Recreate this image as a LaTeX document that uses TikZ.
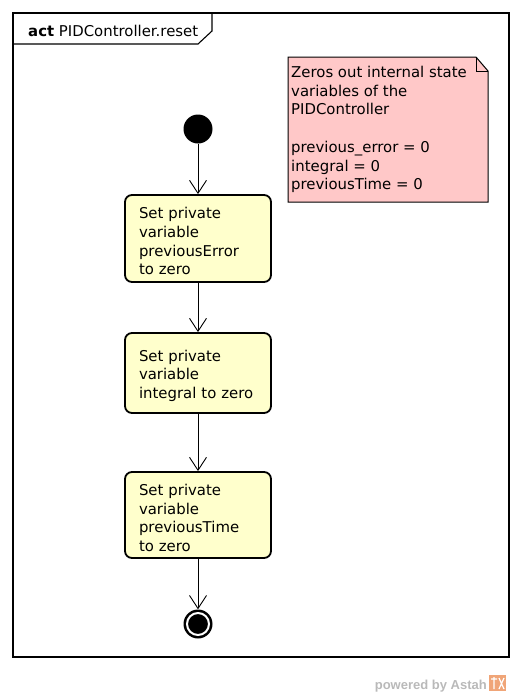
\documentclass[tikz,border=0pt]{standalone}
\usepackage{fontspec}
\setmainfont{DejaVu Sans}
\newfontfamily\wmfont{Liberation Sans}
\usetikzlibrary{arrows.meta}
\definecolor{actfill}{RGB}{255,255,204}
\definecolor{notefill}{RGB}{255,200,200}
\definecolor{wmgray}{RGB}{185,185,185}
\definecolor{astahorange}{RGB}{240,165,120}
\newcommand{\toppad}{\rule{0pt}{17pt}}
\begin{document}
\begin{tikzpicture}[x=1pt,y=-1pt,
  font=\fontsize{14.9}{18.7}\selectfont,
  actbox/.style={draw, line width=1.8pt, fill=actfill, rounded corners=7pt,
    minimum width=146pt, minimum height=80pt, text width=118pt, align=left,
    inner xsep=14pt, inner ysep=4pt},
  flow/.style={line width=0.9pt, -{Straight Barb[length=13pt,width=17pt,line width=0.9pt]}},
  framebox/.style={line width=1.1pt},
  notebox/.style={draw, line width=1pt, fill=notefill},
  plaintext/.style={inner sep=0pt, align=left}]
\useasboundingbox (0,0) rectangle (522,697);
% frame
\draw[framebox] (13,13) rectangle (509,657);
\draw[framebox] (13,44) -- (198,44) -- (212,31) -- (212,13);
\node[plaintext, anchor=base west] (title) at (28,36) {\textbf{act} PIDController.reset};
% note
\draw[notebox] (288,57) -- (476,57) -- (488,71) -- (488,202) -- (288,202) -- cycle;
\draw[line width=1pt] (476,57) -- (476,71) -- (488,71);
\node[plaintext, anchor=north west] (note) at (291,66) {Zeros out internal state\\variables of the\\PIDController\\[18.7pt]previous\_error = 0\\integral = 0\\previousTime = 0};
% flow
\node[circle, fill=black, inner sep=0pt, minimum size=29pt] (start) at (198,129) {};
\node[actbox, minimum height=87pt] (b1) at (198,238.5) {\toppad Set private\\variable\\previousError\\to zero};
\node[actbox] (b2) at (198,373) {\toppad Set private\\variable\\integral to zero};
\node[actbox, minimum height=86pt] (b3) at (198,515) {\toppad Set private\\variable\\previousTime\\to zero};
\node[circle, fill=black, inner sep=0pt, minimum size=29pt] (end) at (198,624) {};
\node[circle, fill=black, draw=white, line width=2pt, inner sep=0pt, minimum size=22pt] (endin) at (end) {};
\draw[flow] (start) -- (b1);
\draw[flow] (b1) -- (b2);
\draw[flow] (b2) -- (b3);
\draw[flow] (b3) -- (end);
% watermark
\node[inner sep=0pt, anchor=base east, text=wmgray, font=\wmfont\bfseries\fontsize{13}{15}\selectfont] (wm) at (487,689) {powered by Astah};
\fill[astahorange] (489,675) rectangle (506,691);
\draw[white, line width=1.2pt] (491,679) -- (497,679) (494,677) -- (494,689) (499,678) -- (504,689) (504,678) -- (499,689);
\end{tikzpicture}
\end{document}
